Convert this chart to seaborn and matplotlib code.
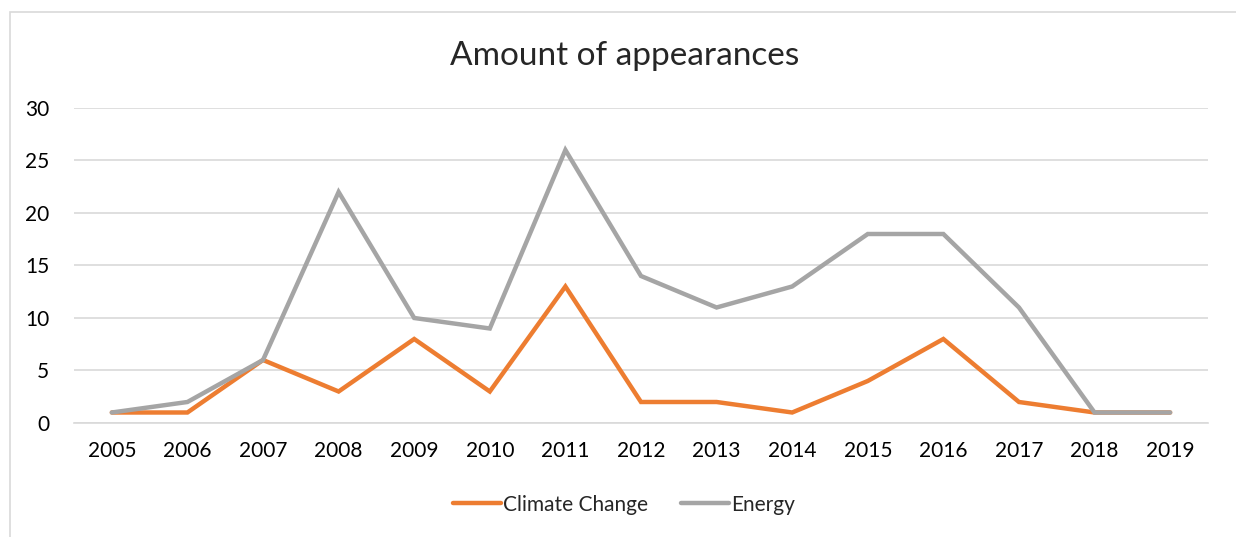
import matplotlib
matplotlib.use("Agg")
import matplotlib.pyplot as plt
import seaborn as sns
import pandas as pd
from matplotlib.patches import Rectangle

# values
years = [str(y) for y in range(2005, 2020)]
climate_change = [1, 1, 6, 3, 8, 3, 13, 2, 2, 1, 4, 8, 2, 1, 1]
energy = [1, 2, 6, 22, 10, 9, 26, 14, 11, 13, 18, 18, 11, 1, 1]

df = pd.DataFrame({"year": years * 2,
                   "count": climate_change + energy,
                   "series": ["Climate Change"] * len(years) + ["Energy"] * len(years)})

sns.set_style("white")
plt.rcParams["font.family"] = ["Lato", "DejaVu Sans"]

fig = plt.figure(figsize=(12.36, 5.37), dpi=100)
ax = fig.add_axes([0.0599, 0.2123, 0.9174, 0.5866])

sns.lineplot(data=df, x="year", y="count", hue="series", sort=False,
             palette={"Climate Change": "#ED7D31", "Energy": "#A5A5A5"},
             linewidth=3.2, ax=ax, legend=True)
for ln in ax.lines:
    ln.set_solid_capstyle("round")
    ln.set_solid_joinstyle("miter")

ax.set_ylim(0, 30)
ax.set_xlim(-0.5, len(years) - 0.5)
ax.set_yticks(range(0, 31, 5))
ax.yaxis.grid(True, color="#D9D9D9", linewidth=1.2)
ax.set_axisbelow(True)
for s in ax.spines.values():
    s.set_visible(False)
ax.spines["bottom"].set_visible(True)
ax.spines["bottom"].set_color("#D9D9D9")
ax.spines["bottom"].set_linewidth(1.2)
ax.tick_params(axis="both", length=0, labelsize=15, colors="black")
ax.tick_params(axis="x", pad=13)
ax.tick_params(axis="y", pad=18)
ax.set_xlabel("")
ax.set_ylabel("")

fig.text(0.505, 0.895, "Amount of appearances", ha="center", va="center", fontsize=24)

handles, labels = ax.get_legend_handles_labels()
ax.legend(handles, labels, loc="center", bbox_to_anchor=(0.505, 0.06),
          bbox_transform=fig.transFigure, ncol=2, frameon=False, fontsize=15,
          handlelength=2.3, columnspacing=1.6, handletextpad=0.1)

# chart border
fig.patches.append(Rectangle((10 / 1236, -0.1), 1.2, 0.1 + (537 - 12) / 537,
                             transform=fig.transFigure, fill=False,
                             edgecolor="#D9D9D9", linewidth=1.2))

fig.savefig("out.png", dpi=100)
